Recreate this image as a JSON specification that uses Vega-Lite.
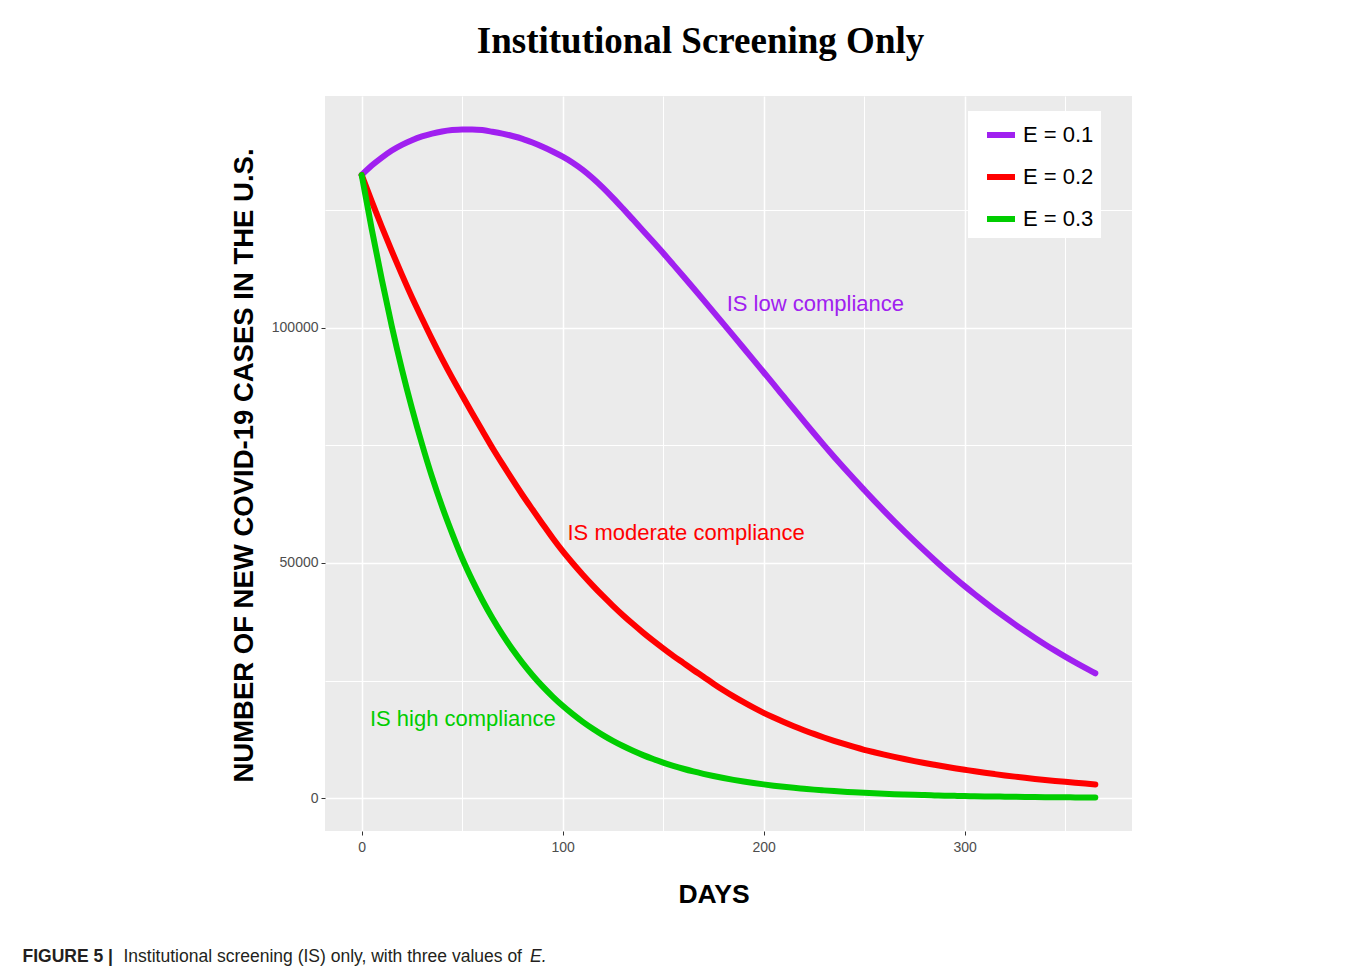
{
"$schema":"https://vega.github.io/schema/vega-lite/v6.json",
"width":807,"height":735,
"autosize":{"type":"none"},
"padding":{"left":325,"top":96,"right":226,"bottom":143},
"background":"white",
"title":{"text":"Institutional Screening Only","font":"Liberation Serif","fontSize":37,"fontWeight":"bold","color":"black","anchor":"middle","frame":"group","dx":-28,"offset":6,"baseline":"alphabetic"},
"config":{"view":{"fill":"#EBEBEB","stroke":null},"axis":{"labelFont":"Liberation Sans","labelFontSize":14,"labelColor":"#4D4D4D","tickColor":"#333333","tickSize":4,"tickWidth":1,"domain":false,"gridColor":"white"}},
"datasets":{"curves":[
{"day":0,"E":"E = 0.1","cases":132500},{"day":5,"E":"E = 0.1","cases":134500},{"day":10,"E":"E = 0.1","cases":136200},{"day":15,"E":"E = 0.1","cases":137700},{"day":20,"E":"E = 0.1","cases":138900},{"day":25,"E":"E = 0.1","cases":139900},{"day":30,"E":"E = 0.1","cases":140700},{"day":35,"E":"E = 0.1","cases":141300},{"day":40,"E":"E = 0.1","cases":141750},{"day":45,"E":"E = 0.1","cases":142050},{"day":50,"E":"E = 0.1","cases":142200},{"day":55,"E":"E = 0.1","cases":142200},{"day":60,"E":"E = 0.1","cases":142050},{"day":65,"E":"E = 0.1","cases":141700},{"day":70,"E":"E = 0.1","cases":141300},{"day":75,"E":"E = 0.1","cases":140800},{"day":80,"E":"E = 0.1","cases":140200},{"day":85,"E":"E = 0.1","cases":139400},{"day":90,"E":"E = 0.1","cases":138500},{"day":95,"E":"E = 0.1","cases":137500},{"day":100,"E":"E = 0.1","cases":136400},{"day":105,"E":"E = 0.1","cases":135125},{"day":110,"E":"E = 0.1","cases":133600},{"day":115,"E":"E = 0.1","cases":131825},{"day":120,"E":"E = 0.1","cases":129825},{"day":125,"E":"E = 0.1","cases":127650},{"day":130,"E":"E = 0.1","cases":125360},{"day":135,"E":"E = 0.1","cases":123020},{"day":140,"E":"E = 0.1","cases":120660},{"day":145,"E":"E = 0.1","cases":118280},{"day":150,"E":"E = 0.1","cases":115900},{"day":155,"E":"E = 0.1","cases":113440},{"day":160,"E":"E = 0.1","cases":110960},{"day":165,"E":"E = 0.1","cases":108460},{"day":170,"E":"E = 0.1","cases":105940},{"day":175,"E":"E = 0.1","cases":103400},{"day":180,"E":"E = 0.1","cases":100850},{"day":185,"E":"E = 0.1","cases":98290},{"day":190,"E":"E = 0.1","cases":95720},{"day":195,"E":"E = 0.1","cases":93140},{"day":200,"E":"E = 0.1","cases":90550},{"day":205,"E":"E = 0.1","cases":87960},{"day":210,"E":"E = 0.1","cases":85360},{"day":215,"E":"E = 0.1","cases":82760},{"day":220,"E":"E = 0.1","cases":80160},{"day":225,"E":"E = 0.1","cases":77585},{"day":230,"E":"E = 0.1","cases":75065},{"day":235,"E":"E = 0.1","cases":72600},{"day":240,"E":"E = 0.1","cases":70190},{"day":245,"E":"E = 0.1","cases":67835},{"day":250,"E":"E = 0.1","cases":65535},{"day":255,"E":"E = 0.1","cases":63258},{"day":260,"E":"E = 0.1","cases":61030},{"day":265,"E":"E = 0.1","cases":58853},{"day":270,"E":"E = 0.1","cases":56725},{"day":275,"E":"E = 0.1","cases":54648},{"day":280,"E":"E = 0.1","cases":52620},{"day":285,"E":"E = 0.1","cases":50648},{"day":290,"E":"E = 0.1","cases":48730},{"day":295,"E":"E = 0.1","cases":46873},{"day":300,"E":"E = 0.1","cases":45070},{"day":305,"E":"E = 0.1","cases":43345},{"day":310,"E":"E = 0.1","cases":41670},{"day":315,"E":"E = 0.1","cases":40045},{"day":320,"E":"E = 0.1","cases":38470},{"day":325,"E":"E = 0.1","cases":36945},{"day":330,"E":"E = 0.1","cases":35470},{"day":335,"E":"E = 0.1","cases":34045},{"day":340,"E":"E = 0.1","cases":32670},{"day":345,"E":"E = 0.1","cases":31345},{"day":350,"E":"E = 0.1","cases":30070},{"day":355,"E":"E = 0.1","cases":28845},{"day":360,"E":"E = 0.1","cases":27670},{"day":365,"E":"E = 0.1","cases":26545},
{"day":0,"E":"E = 0.2","cases":132500},{"day":5,"E":"E = 0.2","cases":126900},{"day":10,"E":"E = 0.2","cases":121500},{"day":15,"E":"E = 0.2","cases":116300},{"day":20,"E":"E = 0.2","cases":111300},{"day":25,"E":"E = 0.2","cases":106500},{"day":30,"E":"E = 0.2","cases":102000},{"day":35,"E":"E = 0.2","cases":97600},{"day":40,"E":"E = 0.2","cases":93400},{"day":45,"E":"E = 0.2","cases":89400},{"day":50,"E":"E = 0.2","cases":85600},{"day":55,"E":"E = 0.2","cases":81850},{"day":60,"E":"E = 0.2","cases":78150},{"day":65,"E":"E = 0.2","cases":74500},{"day":70,"E":"E = 0.2","cases":71050},{"day":75,"E":"E = 0.2","cases":67700},{"day":80,"E":"E = 0.2","cases":64450},{"day":85,"E":"E = 0.2","cases":61350},{"day":90,"E":"E = 0.2","cases":58300},{"day":95,"E":"E = 0.2","cases":55300},{"day":100,"E":"E = 0.2","cases":52500},{"day":105,"E":"E = 0.2","cases":49940},{"day":110,"E":"E = 0.2","cases":47500},{"day":115,"E":"E = 0.2","cases":45190},{"day":120,"E":"E = 0.2","cases":42980},{"day":125,"E":"E = 0.2","cases":40890},{"day":130,"E":"E = 0.2","cases":38890},{"day":135,"E":"E = 0.2","cases":37000},{"day":140,"E":"E = 0.2","cases":35190},{"day":145,"E":"E = 0.2","cases":33480},{"day":150,"E":"E = 0.2","cases":31840},{"day":155,"E":"E = 0.2","cases":30250},{"day":160,"E":"E = 0.2","cases":28750},{"day":165,"E":"E = 0.2","cases":27250},{"day":170,"E":"E = 0.2","cases":25800},{"day":175,"E":"E = 0.2","cases":24330},{"day":180,"E":"E = 0.2","cases":22930},{"day":185,"E":"E = 0.2","cases":21620},{"day":190,"E":"E = 0.2","cases":20390},{"day":195,"E":"E = 0.2","cases":19220},{"day":200,"E":"E = 0.2","cases":18120},{"day":205,"E":"E = 0.2","cases":17120},{"day":210,"E":"E = 0.2","cases":16180},{"day":215,"E":"E = 0.2","cases":15280},{"day":220,"E":"E = 0.2","cases":14440},{"day":225,"E":"E = 0.2","cases":13640},{"day":230,"E":"E = 0.2","cases":12890},{"day":235,"E":"E = 0.2","cases":12180},{"day":240,"E":"E = 0.2","cases":11510},{"day":245,"E":"E = 0.2","cases":10870},{"day":250,"E":"E = 0.2","cases":10270},{"day":255,"E":"E = 0.2","cases":9740},{"day":260,"E":"E = 0.2","cases":9230},{"day":265,"E":"E = 0.2","cases":8750},{"day":270,"E":"E = 0.2","cases":8300},{"day":275,"E":"E = 0.2","cases":7870},{"day":280,"E":"E = 0.2","cases":7460},{"day":285,"E":"E = 0.2","cases":7080},{"day":290,"E":"E = 0.2","cases":6710},{"day":295,"E":"E = 0.2","cases":6360},{"day":300,"E":"E = 0.2","cases":6030},{"day":305,"E":"E = 0.2","cases":5700},{"day":310,"E":"E = 0.2","cases":5390},{"day":315,"E":"E = 0.2","cases":5100},{"day":320,"E":"E = 0.2","cases":4820},{"day":325,"E":"E = 0.2","cases":4560},{"day":330,"E":"E = 0.2","cases":4310},{"day":335,"E":"E = 0.2","cases":4080},{"day":340,"E":"E = 0.2","cases":3860},{"day":345,"E":"E = 0.2","cases":3650},{"day":350,"E":"E = 0.2","cases":3450},{"day":355,"E":"E = 0.2","cases":3260},{"day":360,"E":"E = 0.2","cases":3080},{"day":365,"E":"E = 0.2","cases":2910},
{"day":0,"E":"E = 0.3","cases":132500},{"day":5,"E":"E = 0.3","cases":121000},{"day":10,"E":"E = 0.3","cases":110300},{"day":15,"E":"E = 0.3","cases":100300},{"day":20,"E":"E = 0.3","cases":91200},{"day":25,"E":"E = 0.3","cases":82900},{"day":30,"E":"E = 0.3","cases":75300},{"day":35,"E":"E = 0.3","cases":68300},{"day":40,"E":"E = 0.3","cases":62000},{"day":45,"E":"E = 0.3","cases":56300},{"day":50,"E":"E = 0.3","cases":51000},{"day":55,"E":"E = 0.3","cases":46340},{"day":60,"E":"E = 0.3","cases":42120},{"day":65,"E":"E = 0.3","cases":38280},{"day":70,"E":"E = 0.3","cases":34800},{"day":75,"E":"E = 0.3","cases":31630},{"day":80,"E":"E = 0.3","cases":28750},{"day":85,"E":"E = 0.3","cases":26130},{"day":90,"E":"E = 0.3","cases":23750},{"day":95,"E":"E = 0.3","cases":21590},{"day":100,"E":"E = 0.3","cases":19620},{"day":105,"E":"E = 0.3","cases":17840},{"day":110,"E":"E = 0.3","cases":16210},{"day":115,"E":"E = 0.3","cases":14740},{"day":120,"E":"E = 0.3","cases":13390},{"day":125,"E":"E = 0.3","cases":12170},{"day":130,"E":"E = 0.3","cases":11070},{"day":135,"E":"E = 0.3","cases":10060},{"day":140,"E":"E = 0.3","cases":9140},{"day":145,"E":"E = 0.3","cases":8310},{"day":150,"E":"E = 0.3","cases":7550},{"day":155,"E":"E = 0.3","cases":6870},{"day":160,"E":"E = 0.3","cases":6240},{"day":165,"E":"E = 0.3","cases":5670},{"day":170,"E":"E = 0.3","cases":5160},{"day":175,"E":"E = 0.3","cases":4690},{"day":180,"E":"E = 0.3","cases":4260},{"day":185,"E":"E = 0.3","cases":3870},{"day":190,"E":"E = 0.3","cases":3520},{"day":195,"E":"E = 0.3","cases":3200},{"day":200,"E":"E = 0.3","cases":2910},{"day":205,"E":"E = 0.3","cases":2640},{"day":210,"E":"E = 0.3","cases":2400},{"day":215,"E":"E = 0.3","cases":2180},{"day":220,"E":"E = 0.3","cases":1990},{"day":225,"E":"E = 0.3","cases":1800},{"day":230,"E":"E = 0.3","cases":1640},{"day":235,"E":"E = 0.3","cases":1490},{"day":240,"E":"E = 0.3","cases":1360},{"day":245,"E":"E = 0.3","cases":1230},{"day":250,"E":"E = 0.3","cases":1120},{"day":255,"E":"E = 0.3","cases":1020},{"day":260,"E":"E = 0.3","cases":925},{"day":265,"E":"E = 0.3","cases":840},{"day":270,"E":"E = 0.3","cases":765},{"day":275,"E":"E = 0.3","cases":695},{"day":280,"E":"E = 0.3","cases":630},{"day":285,"E":"E = 0.3","cases":575},{"day":290,"E":"E = 0.3","cases":520},{"day":295,"E":"E = 0.3","cases":475},{"day":300,"E":"E = 0.3","cases":430},{"day":305,"E":"E = 0.3","cases":390},{"day":310,"E":"E = 0.3","cases":355},{"day":315,"E":"E = 0.3","cases":325},{"day":320,"E":"E = 0.3","cases":295},{"day":325,"E":"E = 0.3","cases":265},{"day":330,"E":"E = 0.3","cases":240},{"day":335,"E":"E = 0.3","cases":220},{"day":340,"E":"E = 0.3","cases":200},{"day":345,"E":"E = 0.3","cases":180},{"day":350,"E":"E = 0.3","cases":165},{"day":355,"E":"E = 0.3","cases":150},{"day":360,"E":"E = 0.3","cases":135},{"day":365,"E":"E = 0.3","cases":125}
]},
"layer":[
{"data":{"name":"curves"},
 "mark":{"type":"line","strokeWidth":6,"interpolate":"monotone","strokeCap":"round","strokeJoin":"round"},
 "encoding":{
  "x":{"field":"day","type":"quantitative","scale":{"domain":[-18.25,383.25],"nice":false,"zero":false},
   "axis":{"orient":"bottom","title":"DAYS","values":[0,50,100,150,200,250,300,350],"format":"d","labelOverlap":false,
    "labelExpr":"datum.value % 100 === 0 ? datum.label : ''","labelPadding":5,
    "tickOpacity":{"condition":{"test":"datum.value % 100 !== 0","value":0},"value":1},
    "gridWidth":{"condition":{"test":"datum.value % 100 === 0","value":1.5},"value":1},
    "titleX":388.5,"titleY":63,"titleAlign":"center","titleBaseline":"middle","titleFont":"Liberation Sans","titleFontSize":26.5,"titleFontWeight":"bold","titleColor":"black"}},
  "y":{"field":"cases","type":"quantitative","scale":{"domain":[-7000,149300],"nice":false,"zero":false},
   "axis":{"title":"NUMBER OF NEW COVID-19 CASES IN THE U.S.","values":[0,25000,50000,75000,100000,125000],"format":"d","labelOverlap":false,
    "labelExpr":"datum.value % 50000 === 0 ? datum.label : ''","labelPadding":3,
    "tickOpacity":{"condition":{"test":"datum.value % 50000 !== 0","value":0},"value":1},
    "gridWidth":{"condition":{"test":"datum.value % 50000 === 0","value":1.5},"value":1},
    "titleX":-81,"titleY":369,"titleAngle":-90,"titleAlign":"center","titleBaseline":"middle","titleFont":"Liberation Sans","titleFontSize":27.5,"titleFontWeight":"bold","titleColor":"black"}},
  "color":{"field":"E","type":"nominal","scale":{"domain":["E = 0.1","E = 0.2","E = 0.3"],"range":["#A020F0","#FF0000","#00CD00"]},
   "legend":{"title":null,"orient":"none","legendX":643,"legendY":15,"fillColor":"white","padding":7,"symbolType":"stroke","symbolStrokeWidth":6,"symbolSize":784,"symbolOffset":9,"labelFont":"Liberation Sans","labelFontSize":22,"labelColor":"black","labelOffset":5,"rowPadding":13}}
 }},
{"data":{"values":[{"day":181.6,"cases":105100,"label":"IS low compliance"}]},
 "mark":{"type":"text","align":"left","baseline":"middle","font":"Liberation Sans","fontSize":22,"color":"#A020F0"},
 "encoding":{
  "x":{"field":"day","type":"quantitative","axis":{"orient":"bottom","title":"FIGURE 5 |","labels":false,"ticks":false,"domain":false,"grid":false,"titleX":-303,"titleY":125.6,"titleAlign":"left","titleBaseline":"middle","titleFont":"Liberation Sans","titleFontSize":17.5,"titleFontWeight":"bold","titleColor":"#231F20"}},
  "y":{"field":"cases","type":"quantitative","axis":null},
  "text":{"field":"label"}}},
{"data":{"values":[{"day":102.4,"cases":56400,"label":"IS moderate compliance"}]},
 "mark":{"type":"text","align":"left","baseline":"middle","font":"Liberation Sans","fontSize":22,"color":"#FF0000"},
 "encoding":{
  "x":{"field":"day","type":"quantitative","axis":{"orient":"bottom","title":"Institutional screening (IS) only, with three values of","labels":false,"ticks":false,"domain":false,"grid":false,"titleX":-202,"titleY":125.6,"titleAlign":"left","titleBaseline":"middle","titleFont":"Liberation Sans","titleFontSize":17.5,"titleFontWeight":"normal","titleColor":"#231F20"}},
  "y":{"field":"cases","type":"quantitative","axis":null},
  "text":{"field":"label"}}},
{"data":{"values":[{"day":4.1,"cases":16900,"label":"IS high compliance"}]},
 "mark":{"type":"text","align":"left","baseline":"middle","font":"Liberation Sans","fontSize":22,"color":"#00CD00"},
 "encoding":{
  "x":{"field":"day","type":"quantitative","axis":{"orient":"bottom","title":"E.","labels":false,"ticks":false,"domain":false,"grid":false,"titleX":204.5,"titleY":125.6,"titleAlign":"left","titleBaseline":"middle","titleFont":"Liberation Sans","titleFontSize":17.5,"titleFontWeight":"normal","titleFontStyle":"italic","titleColor":"#231F20"}},
  "y":{"field":"cases","type":"quantitative","axis":null},
  "text":{"field":"label"}}}
],
"resolve":{"axis":{"x":"independent","y":"independent"}}
}
